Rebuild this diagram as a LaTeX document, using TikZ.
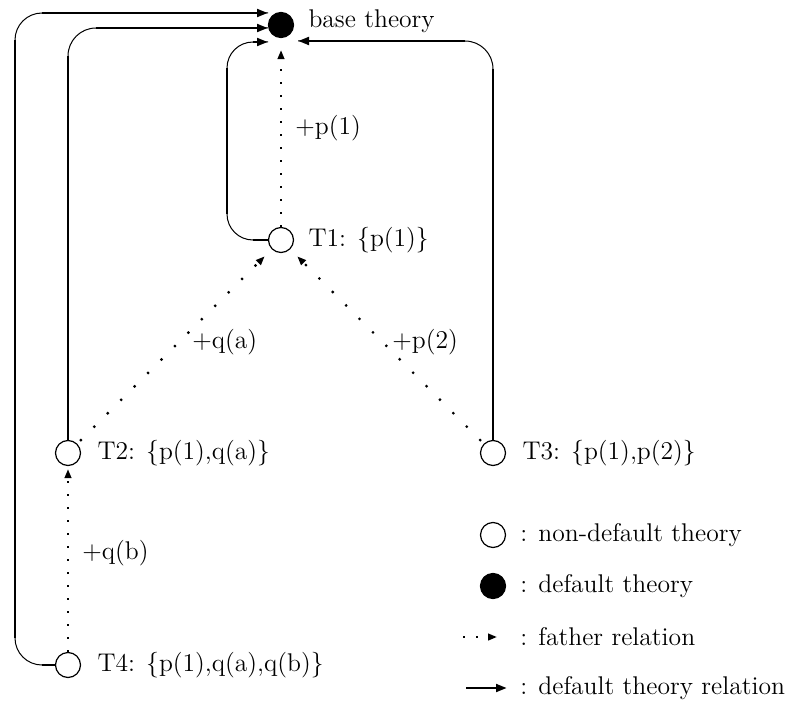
\documentclass[tikz,border=0pt]{standalone}
\usetikzlibrary{arrows.meta, positioning}

\begin{document}
\begin{tikzpicture}[x=0.5pt, y=-0.5pt,
    font=\fontsize{12.8}{15}\selectfont,
    theory/.style={circle, draw, line width=0.6pt, minimum size=12.5pt, inner sep=0pt},
    deftheory/.style={theory, fill=black},
    thname/.style={inner sep=0pt, anchor=west},
    arrowtip/.style={-{Triangle[length=4.5pt, width=3.3pt]}},
    bigtip/.style={-{Triangle[length=5.5pt, width=3.8pt]}},
    father/.style={arrowtip, line width=1.1pt, dash pattern=on 1.1pt off 5.4pt},
    fatherdiag/.style={arrowtip, line width=1.1pt, dash pattern=on 1.1pt off 8.4pt},
    defrel/.style={line width=1.4pt},
    arcline/.style={line width=0.5pt}
]
    \useasboundingbox (0,0) rectangle (803,706);

    % theories
    \node[deftheory] (base) at (281,25) {};
    \node[theory] (t1) at (281,240) {};
    \node[theory] (t2) at (68,453) {};
    \node[theory] (t3) at (493,453) {};
    \node[theory] (t4) at (68,665) {};

    \node[thname, right=7pt of base, yshift=2pt] (basetxt) {base theory};
    \node[thname, right=7pt of t1] (t1txt) {T1: \{p(1)\}};
    \node[thname, right=8pt of t2] (t2txt) {T2: \{p(1),q(a)\}};
    \node[thname, right=8pt of t3] (t3txt) {T3: \{p(1),p(2)\}};
    \node[thname, right=8pt of t4] (t4txt) {T4: \{p(1),q(a),q(b)\}};

    % father relations
    \draw[father, shorten >=6pt] (t1) -- (base);
    \draw[father, shorten >=1.5pt] (t4) -- (t2);
    \draw[fatherdiag, shorten <=2pt, shorten >=5pt] (t2) -- (t1);
    \draw[fatherdiag, shorten <=2pt, shorten >=5pt] (t3) -- (t1);

    \node[thname] (lp1) at (295,128) {+p(1)};
    \node[thname] (lqa) at (192,342) {+q(a)};
    \node[thname] (lp2) at (392,342) {+p(2)};
    \node[thname] (lqb) at (82,553) {+q(b)};

    % default theory relations
    \coordinate (c4a) at (15,665);
    \coordinate (c4b) at (15,13);
    \coordinate (a4) at (268,13);
    \coordinate (c2) at (68,28);
    \coordinate (a2) at (268,28);
    \coordinate (c1a) at (227,240);
    \coordinate (c1b) at (227,42);
    \coordinate (a1) at (268,42);
    \coordinate (c3) at (493,41);
    \coordinate (a3) at (298,41);

    \draw[arcline, rounded corners=13.5pt] (t4.west) -- (c4a) -- (c4b) -- (a4);
    \draw[defrel, shorten >=13.5pt] (t4.west) -- (c4a);
    \draw[defrel, shorten <=13.5pt, shorten >=13.5pt] (c4a) -- (c4b);
    \draw[defrel, bigtip, shorten <=13.5pt] (c4b) -- (a4);

    \draw[arcline, rounded corners=14pt] (t2.north) -- (c2) -- (a2);
    \draw[defrel, shorten >=14pt] (t2.north) -- (c2);
    \draw[defrel, bigtip, shorten <=14pt] (c2) -- (a2);

    \draw[arcline, rounded corners=13pt] (t1.west) -- (c1a) -- (c1b) -- (a1);
    \draw[defrel, shorten >=13pt] (t1.west) -- (c1a);
    \draw[defrel, shorten <=13pt, shorten >=13pt] (c1a) -- (c1b);
    \draw[defrel, bigtip, shorten <=13pt] (c1b) -- (a1);

    \draw[arcline, rounded corners=14pt] (t3.north) -- (c3) -- (a3);
    \draw[defrel, shorten >=14pt] (t3.north) -- (c3);
    \draw[defrel, bigtip, shorten <=14pt] (c3) -- (a3);

    % legend
    \node[theory] (lgopen) at (493,535) {};
    \node[thname] (lgopentxt) at (520,535) {: non-default theory};
    \node[deftheory] (lgfull) at (493,586) {};
    \node[thname] (lgfulltxt) at (520,586) {: default theory};
    \coordinate (lgf1) at (463,637);
    \coordinate (lgf2) at (497,637);
    \draw[father] (lgf1) -- (lgf2);
    \node[thname] (lgfathertxt) at (520,637) {: father relation};
    \coordinate (lgd1) at (466,688);
    \coordinate (lgd2) at (507,688);
    \draw[defrel, bigtip] (lgd1) -- (lgd2);
    \node[thname] (lgdeftxt) at (520,688) {: default theory relation};
\end{tikzpicture}
\end{document}
